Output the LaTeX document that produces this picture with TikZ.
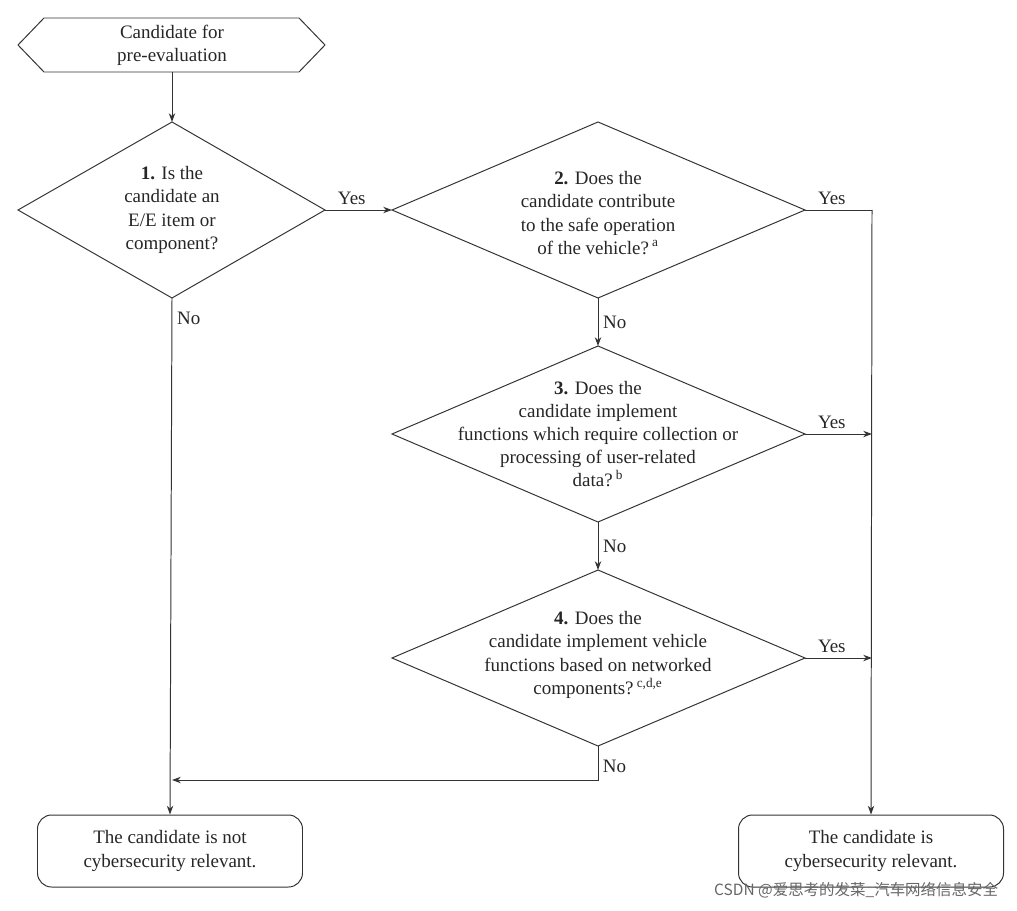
\documentclass[tikz,border=0pt]{standalone}
\usepackage{fontspec}
\setmainfont{Liberation Serif}
\newfontfamily\cjk{Noto Sans CJK SC}
\usetikzlibrary{arrows.meta}
\begin{document}
\begin{tikzpicture}[x=0.025cm,y=-0.025cm,
  line/.style={draw=black!80,line width=0.7pt},
  arr/.style={line,-{Stealth[length=2.2mm,width=1.6mm]}},
  txt/.style={align=center,font=\fontsize{13.5}{16.5}\selectfont,text=black!85},
  lab/.style={font=\fontsize{13.5}{16}\selectfont,text=black!85},
  box/.style={line,rounded corners=10pt,minimum width=265*0.025cm,minimum height=72*0.025cm,align=center,font=\fontsize{13.5}{16.5}\selectfont,text=black!85}]
\useasboundingbox (0,0) rectangle (1017,911);
% start hexagon
\draw[line] (18,45)--(44,18)--(299,18)--(325,45)--(299,72)--(44,72)--cycle;
\node[txt] (start) at (172,45) {Candidate for\\pre-evaluation};
\coordinate (startb) at (172,72);
% diamonds
\draw[line] (18,210)--(172,122)--(325,210)--(172,298)--cycle;
\node[txt] (d1) at (172,210) {\textbf{1.} Is the\\candidate an\\E/E item or\\component?};
\coordinate (d1t) at (172,122); \coordinate (d1r) at (325,210); \coordinate (d1b) at (172,298);
\foreach \n/\y in {2/210,3/434,4/658}{
  \draw[line] (392,\y)--(598,\y-88)--(805,\y)--(598,\y+88)--cycle;
  \coordinate (d\n l) at (392,\y); \coordinate (d\n t) at (598,\y-88);
  \coordinate (d\n r) at (805,\y); \coordinate (d\n b) at (598,\y+88);
  \coordinate (y\n) at (872,\y);
}
\node[txt] (d2) at (598,213) {\textbf{2.} Does the\\candidate contribute\\to the safe operation\\of the vehicle?\,\textsuperscript{a}};
\node[txt] (d3) at (598,434) {\textbf{3.} Does the\\candidate implement\\functions which require collection or\\processing of user-related\\data?\,\textsuperscript{b}};
\node[txt] (d4) at (598,655) {\textbf{4.} Does the\\candidate implement vehicle\\functions based on networked\\components?\,\textsuperscript{c,d,e}};
% result boxes
\node[box] (no) at (170,851) {The candidate is not\\cybersecurity relevant.};
\node[box] (yes) at (871,851) {The candidate is\\cybersecurity relevant.};
% connectors
\draw[arr] (startb) -- (d1t);
\draw[arr] (d1r) -- (d2l) node[lab,pos=0.4,above] {Yes};
\draw[arr] (d2b) -- (d3t) node[lab,midway,right] {No};
\draw[arr] (d3b) -- (d4t) node[lab,midway,right] {No};
\draw[line] (d2r) -- (y2) node[lab,pos=0.4,above] {Yes};
\draw[arr] (d3r) -- (y3) node[lab,pos=0.4,above] {Yes};
\draw[arr] (d4r) -- (y4) node[lab,pos=0.4,above] {Yes};
\draw[arr] (y2) -- (yes.north);
\draw[arr] (d1b) -- (no.north) node[lab,pos=0.04,right] {No};
\coordinate (j) at (172,780);
\draw[arr] (d4b) -- (598,780) -- (j);
\node[lab,right] (n4) at (598,766) {No};
\node[font=\cjk\fontsize{11}{13}\selectfont,text=black!60,anchor=east] (wm) at (1003,890) {CSDN @爱思考的发菜\_汽车网络信息安全};
\end{tikzpicture}
\end{document}
